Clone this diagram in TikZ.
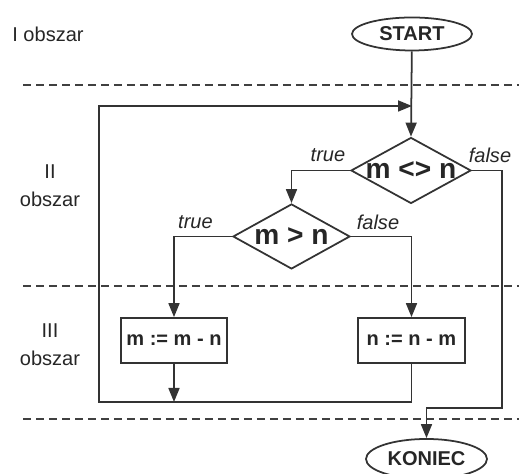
\documentclass[tikz,border=0pt]{standalone}
\usepackage{fontspec}
\setmainfont{Liberation Sans}
\usetikzlibrary{arrows.meta,shapes.geometric}

\tikzset{
	flow/.style={line width=1pt, draw=black!80, -{Triangle[length=2.8mm,width=2.2mm]}},
	line/.style={line width=1pt, draw=black!80},
	region/.style={dashed, dash pattern=on 1.6mm off 1mm, line width=0.6pt, draw=black!75},
	term/.style={ellipse, draw=black!80, line width=1pt, inner sep=0pt, font=\fontsize{11.4}{14}\selectfont\bfseries},
	cond/.style={diamond, draw=black!80, line width=1pt, inner sep=0pt, minimum width=2.4cm, minimum height=1.32cm, font=\fontsize{16}{18}\selectfont\bfseries},
	oper/.style={rectangle, draw=black!80, line width=1pt, inner sep=1pt, minimum width=2.12cm, minimum height=0.9cm, font=\fontsize{11.4}{14}\selectfont\bfseries},
	lbl/.style={font=\fontsize{11.4}{14}\selectfont\itshape, inner sep=0pt},
	area/.style={align=center, font=\fontsize{11.4}{16}\selectfont, inner sep=0pt}
}
\newcommand{\cnd}[1]{\makebox[0pt]{#1}}

\begin{document}
\begin{tikzpicture}[text=black!85]
		\useasboundingbox (0,0) rectangle (10.38,9.48);
		
		% Draw region borders
		\draw[region] (0.46,7.78) -- (10.38,7.78);
		\draw[region] (0.46,3.76) -- (10.38,3.76);
		\draw[region] (0.46,1.10) -- (10.38,1.10);
		
		% Region names
		\node[area] (a1) at (0.96,8.80) {I obszar};
		\node[area] (a2) at (1.00,5.76) {II\\obszar};
		\node[area] (a3) at (1.00,2.58) {III\\obszar};
		
		% Define nodes
		\node[term, minimum width=2.4cm, minimum height=0.66cm] (start) at (8.24,8.80) {START};
		\node[cond] (d1) at (8.22,6.07) {\cnd{m <> n}};
		\node[cond, minimum width=2.34cm, minimum height=1.30cm] (d2) at (5.83,4.75) {\cnd{m > n}};
		\node[oper] (b1) at (3.48,2.67) {m := m - n};
		\node[oper, minimum width=2.14cm] (b2) at (8.23,2.67) {n := n - m};
		\node[term, minimum width=2.42cm, minimum height=0.8cm] (stop) at (8.53,0.30) {KONIEC};
		
		% Define points
		\coordinate (lb) at (1.98,1.44);
		\coordinate (lt) at (1.98,7.36);
		\coordinate (j) at (8.24,7.36);
		\coordinate (fr) at (10.04,1.32);
		
		% Draw connectors
		\draw[flow] (start) -- (d1.north);
		\draw[flow] (d1.west) -| (d2.north);
		\draw[flow] (d2.west) -| (b1.north);
		\draw[flow] (d2.east) -| (b2.north);
		\draw[flow] (b1.south) -- (b1.south |- lb);
		\draw[flow] (b2.south) |- (lb) |- (j);
		\draw[flow] (d1.east) -| (fr) -| (stop.north);
		
		% Branch labels
		\node[lbl] (t1) at (6.56,6.38) {true};
		\node[lbl] (f1) at (9.80,6.38) {false};
		\node[lbl] (t2) at (3.91,5.04) {true};
		\node[lbl] (f2) at (7.56,5.04) {false};
		
	\end{tikzpicture}
\end{document}
